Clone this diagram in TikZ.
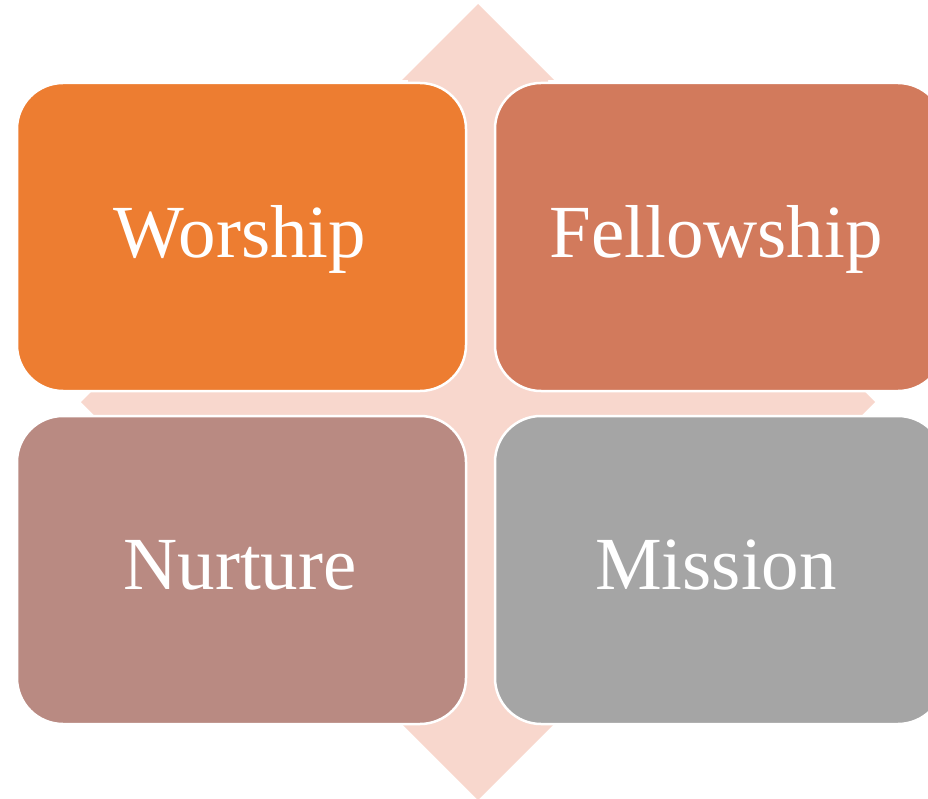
\documentclass[tikz,border=0pt]{standalone}
\usepackage{fontspec}
\setmainfont{Liberation Serif}
\definecolor{crossc}{HTML}{F8D7CD}
\definecolor{worshipc}{HTML}{ED7D31}
\definecolor{fellowc}{HTML}{D27A5C}
\definecolor{nurturec}{HTML}{B98A82}
\definecolor{missionc}{HTML}{A5A5A5}
\begin{document}
\begin{tikzpicture}[x=1pt,y=-1pt,
  box/.style={draw=white, line width=2.5pt, rounded corners=46pt,
    minimum width=449pt, minimum height=308pt, inner sep=0pt},
  lbl/.style={text=white, font=\fontsize{75}{90}\selectfont, inner sep=0pt, anchor=base}]
\useasboundingbox (0,0) rectangle (928,799);
\begin{scope}
\clip (0,0) rectangle (928,799);
\fill[crossc] (478,4) -- (554,80) -- (548,80) -- (548,332) -- (799,332) -- (799,326)
  -- (875,402) -- (799,478) -- (799,472) -- (548,472) -- (548,724) -- (554,724)
  -- (478,800) -- (402,724) -- (408,724) -- (408,472) -- (157,472) -- (157,478)
  -- (81,402) -- (157,326) -- (157,332) -- (408,332) -- (408,80) -- (402,80) -- cycle;
\node[box, fill=worshipc] (w) at (241.5,237) {};
\node[box, fill=fellowc] (f) at (719.5,237) {};
\node[box, fill=nurturec] (n) at (241.5,570) {};
\node[box, fill=missionc] (m) at (719.5,570) {};
\end{scope}
\node[lbl] (wt) at (240,258) {Worship};
\node[lbl] (ft) at (716,258) {Fellowship};
\node[lbl] (nt) at (240,589) {Nurture};
\node[lbl] (mt) at (716,589) {Mission};
\end{tikzpicture}
\end{document}
